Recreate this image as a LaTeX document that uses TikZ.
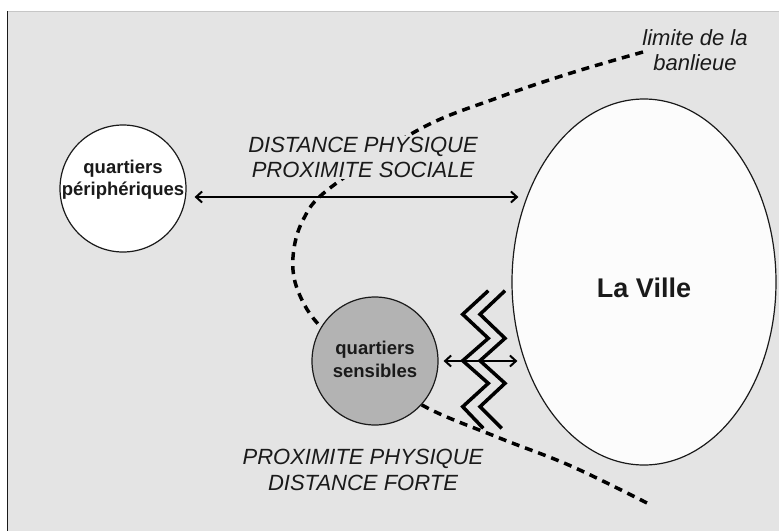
\documentclass[tikz,border=0pt]{standalone}
\usepackage{fontspec}
\setmainfont{Liberation Sans}
\usetikzlibrary{shapes.geometric,arrows.meta}
\definecolor{bg}{HTML}{E4E4E4}
\definecolor{sensfill}{HTML}{B3B3B3}
\definecolor{ink}{HTML}{1A1A1A}
\definecolor{villefill}{HTML}{FCFCFC}
\begin{document}
\begin{tikzpicture}[x=1pt,y=-1pt,
  zone/.style={ellipse,draw=ink,line width=1.2pt,inner sep=0pt},
  zonetext/.style={text=ink,font=\bfseries\fontsize{18.5}{22.5}\selectfont,align=center,inner sep=0pt},
  lbl/.style={font=\itshape\fontsize{22}{25.5}\selectfont,align=center,text=ink,inner sep=1pt},
  boundary/.style={line width=3.5pt,dash pattern=on 8pt off 6pt},
  link/.style={line width=2pt,{Straight Barb[length=6pt,width=11pt,line width=2pt]}-{Straight Barb[length=6pt,width=11pt,line width=2pt]}},
  zig/.style={line width=3.5pt,miter limit=10}]
\useasboundingbox (0,0) rectangle (779,531);
\fill[white] (0,0) rectangle (779,531);
\fill[bg] (7.5,11) rectangle (779,531);
\draw[color=gray!45,line width=1pt] (7.5,11) -- (779,11);
\draw[ink,line width=1.5pt] (7.5,11) -- (7.5,531);

% limite de la banlieue
\draw[boundary] plot[smooth,tension=0.6] coordinates {(643,52) (571,73) (497,98) (420,129) (330,188) (303,220) (293,257) (298,291) (321,327) (372,366) (422,405) (497,437) (571,466) (651,505)};

% labels
\node[lbl,fill=bg] (dp) at (363,157.5) {DISTANCE PHYSIQUE\\PROXIMITE SOCIALE};
\node[lbl] (pp) at (363,470) {PROXIMITE PHYSIQUE\\DISTANCE FORTE};
\node[lbl] (lim) at (695,50) {limite de la\\banlieue};

% zones
\node[zone,fill=white,minimum width=126pt,minimum height=127pt] (per) at (123,188.5) {};
\node[zonetext] (pert) at ([yshift=8.7pt]per.center) {quartiers\\périphériques};
\node[zone,fill=sensfill,minimum width=126pt,minimum height=128pt] (sens) at (375,361) {};
\node[zonetext] (senst) at ([yshift=1.7pt]sens.center) {quartiers\\sensibles};
\node[zone,fill=villefill,minimum width=264pt,minimum height=366pt] (ville) at (644,282) {};
\node[text=ink,font=\bfseries\fontsize{27}{30}\selectfont,inner sep=0pt] (villet) at ([yshift=-6pt]ville.center) {La Ville};

% zigzags
\draw[zig] (488.3,290.7) -- (462.7,314.3) -- (488.3,338.3) -- (462.7,360.7) -- (488.3,383.3) -- (462.7,406.7) -- (483.3,428.3);
\draw[zig] (505,290.7) -- (480,314.3) -- (505,338.3) -- (480,360.7) -- (505,383.3) -- (480,406.7) -- (501.7,428.3);

% links
\draw[link] ([xshift=8pt,yshift=-8.5pt]per.east) -- ([xshift=7pt,yshift=85pt]ville.west);
\draw[link] ([xshift=5pt]sens.east) -- ([xshift=6pt,yshift=-79pt]ville.west);
\end{tikzpicture}
\end{document}
